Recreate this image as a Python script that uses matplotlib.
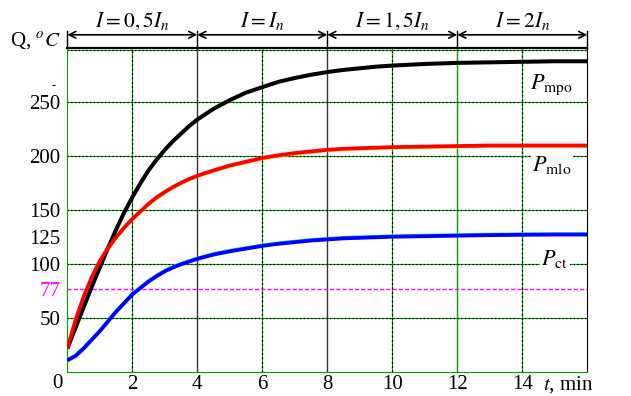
import numpy as np
import matplotlib
matplotlib.use("Agg")
import matplotlib.pyplot as plt

plt.rcParams['font.family'] = ['Liberation Serif', 'DejaVu Serif']
plt.rcParams['mathtext.fontset'] = 'stix'

# ---- data ----
t = [0, 0.25, 0.5, 0.75, 1, 1.25, 1.5, 1.75, 2, 2.25, 2.5, 2.75, 3, 3.25, 3.5, 3.75, 4,
     4.5, 5, 5.5, 6, 6.5, 7, 7.5, 8, 8.5, 9, 9.5, 10, 11, 12, 13, 14, 15, 16]
p_mpo = [22, 41, 60, 79, 97, 115, 132, 148, 162, 175, 187, 197, 206, 214, 221, 228, 234,
         244, 252, 259, 264, 269, 272.5, 275.5, 278, 280, 281.5, 283, 284, 285.5, 286.5, 287,
         287.5, 288, 288]
p_mlo = [22, 48, 70, 88, 103, 115, 125, 134, 142, 149, 156, 162, 167, 171.5, 175.5, 179, 182,
         187, 191.5, 195, 198.5, 201, 203, 204.5, 206, 207, 207.5, 208, 208.5, 209, 209.5, 210,
         210, 210, 210]
p_ct = [11, 15, 22, 30, 38, 47, 56, 64, 72, 78, 84, 89, 93.5, 97, 100, 102.5, 105,
        109, 112, 114.5, 117, 119, 120.5, 122, 123, 124, 124.5, 125, 125.5, 126, 126.5, 127,
        127.3, 127.5, 127.5]
limit = 77

zones = [0, 4, 8, 12, 16]
zone_labels = [r"$I=0,5I_n$", r"$I=I_n$", r"$I=1,5I_n$", r"$I=2I_n$"]
xticks = [2, 4, 6, 8, 10, 12, 14]
yticks = [50, 77, 100, 125, 150, 200, 250]
hgrid = [50, 100, 150, 200, 250]

GREEN = '#00a000'

fig = plt.figure(figsize=(6.31, 3.96), dpi=100)
ax = fig.add_axes([67.3 / 631, 23.7 / 396, 520 / 631, 324 / 396])
ax.set_xlim(0, 16)
ax.set_ylim(0, 300)

# grid: green under black dots
for y in hgrid + [298.3]:
    ax.axhline(y, color=GREEN, lw=0.8, zorder=1)
    ax.axhline(y, color='black', lw=0.9, ls=(0, (1, 2)), zorder=1.1)
for x in [2, 6, 10, 14]:
    ax.axvline(x, color=GREEN, lw=0.8, zorder=1)
    ax.axvline(x, color='black', lw=0.9, ls=(0, (1.5, 2)), zorder=1.1)
for x in [4, 8]:
    ax.axvline(x, color='#333333', lw=1.0, zorder=1)
ax.axvline(12, color=GREEN, lw=1.0, zorder=1)

ax.axhline(limit, color='#ff00ff', lw=1.0, ls=(0, (3, 1.5)), zorder=2)

kw = dict(solid_joinstyle='round', solid_capstyle='butt')
ax.plot(t, [v - 0.8 for v in p_mlo], color='#ffd000', lw=2.2, zorder=2.5, **kw)
ax.plot(t, [v + 0.8 for v in p_ct], color='#00d0ff', lw=2.2, zorder=2.5, **kw)
ax.plot(t, p_mpo, color='black', lw=2.9, zorder=3, **kw)
ax.plot(t, p_mlo, color='#ff0000', lw=2.7, zorder=3, **kw)
ax.plot(t, p_ct, color='#0000ff', lw=2.7, zorder=3, **kw)

for sp in ['left', 'bottom']:
    ax.spines[sp].set_color(GREEN)
ax.spines['top'].set_linewidth(1.6)
ax.spines['right'].set_color('black')

ax.set_xticks(xticks)
ax.set_xticklabels([str(v) for v in xticks])
ax.set_yticks(yticks)
ax.set_yticklabels([str(v) for v in yticks])
ax.tick_params(axis='y', length=0, labelsize=15, pad=5)
ax.tick_params(axis='x', length=0, labelsize=15, pad=2)
ax.get_yticklabels()[1].set_color('#ff00ff')
ax.text(-0.15, -2, "0", ha='right', va='top', fontsize=15)
ax.text(-0.35, 265, "-", ha='right', va='center', fontsize=9)
ax.text(14.65, -2, r"$t$, min", ha='left', va='top', fontsize=15)
ax.text(-0.2, 302, r"Q, $^oC$", ha='right', va='baseline', fontsize=15)

# current zones above the chart
for x in zones:
    ax.plot([x, x], [300, 316], color='black', lw=1.0, clip_on=False)
for i in range(4):
    ax.annotate("", xy=(zones[i + 1], 312.5), xytext=(zones[i], 312.5),
                arrowprops=dict(arrowstyle='<->', color='black', lw=1.2,
                                shrinkA=0, shrinkB=0, mutation_scale=12),
                annotation_clip=False)
    ax.text((zones[i] + zones[i + 1]) / 2, 315, zone_labels[i], ha='center', va='bottom',
            fontsize=15.5)

# curve labels
box = dict(facecolor='white', edgecolor='none', pad=1)
ax.text(14.9, 266, r"$P_{\mathrm{mpo}}$", ha='center', va='center', fontsize=16, bbox=box, zorder=4)
ax.text(14.9, 192, r"$P_{\mathrm{mlo}}$", ha='center', va='center', fontsize=16, bbox=box, zorder=4)
ax.text(15.0, 105, r"$P_{\mathrm{ct}}$", ha='center', va='center', fontsize=16, bbox=box, zorder=4)

fig.savefig("out.png", dpi=100)
